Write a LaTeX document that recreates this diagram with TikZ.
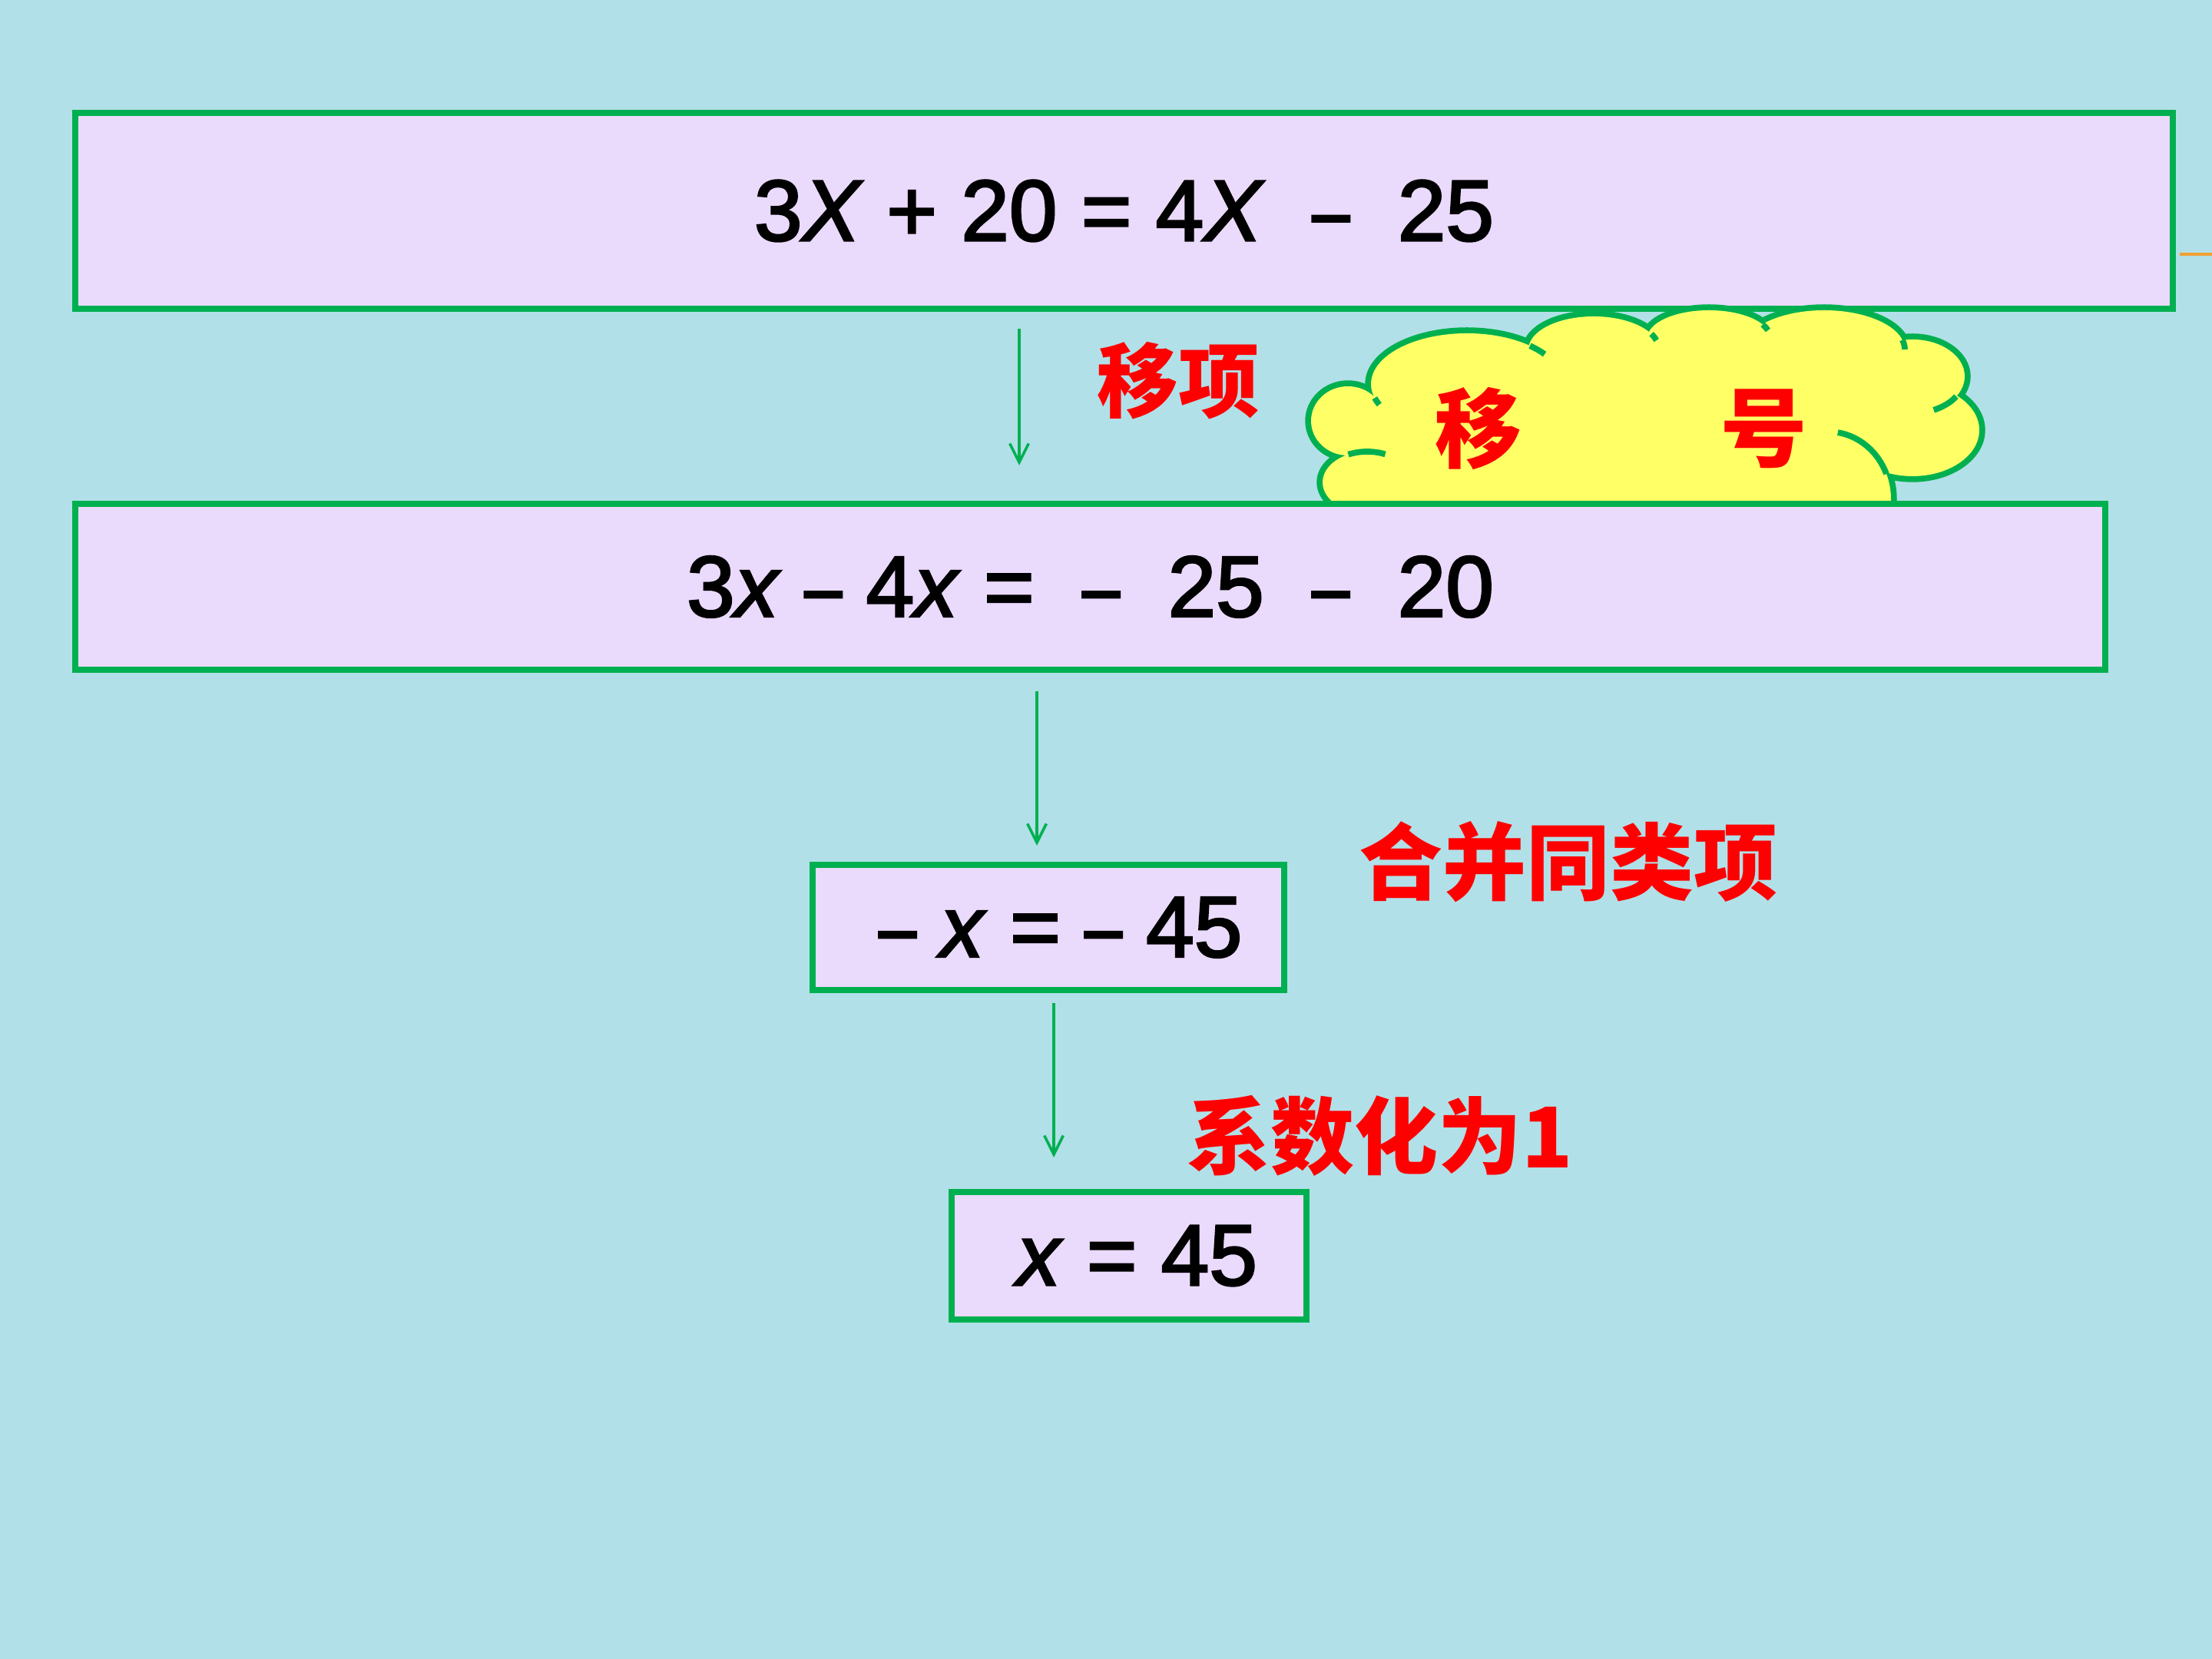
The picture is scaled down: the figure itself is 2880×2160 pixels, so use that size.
\documentclass[tikz,border=0pt]{standalone}
\usepackage{fontspec}
\usepackage{graphicx}
\setmainfont{Liberation Sans}
\newfontfamily\eqfont{Liberation Sans}[FakeBold=2.5]
\newfontfamily\cjk{Noto Sans CJK SC}
\usetikzlibrary{arrows.meta}
\definecolor{bgcyan}{RGB}{178,224,232}
\definecolor{boxfill}{RGB}{234,218,252}
\definecolor{bordergreen}{RGB}{0,176,80}
\definecolor{cloudyellow}{RGB}{255,255,102}
\definecolor{linkorange}{RGB}{240,160,50}
\newcommand{\shortdash}{\scalebox{0.78}[1]{–}}
\begin{document}
\begin{tikzpicture}[x=0.01cm,y=0.01cm,
  eqbox/.style={draw=bordergreen, line width=2.2pt, fill=boxfill, inner sep=0pt,
    font=\eqfont\fontsize{32}{38}\selectfont},
  redlabel/.style={text=red, inner sep=0pt},
  cjkbig/.style={font=\cjk\bfseries\fontsize{32}{38}\selectfont},
  cjkmid/.style={font=\cjk\bfseries\fontsize{31}{36}\selectfont},
  cjksmall/.style={font=\cjk\bfseries\fontsize{30}{36}\selectfont},
  flowarrow/.style={draw=bordergreen, line width=1pt, -{Straight Barb[length=7pt,width=7pt]}},
  puffline/.style={draw=bordergreen, line width=2.2pt},
  puffouter/.style={draw=bordergreen, line width=4.4pt, fill=cloudyellow}
]
\fill[bgcyan] (0,0) rectangle (2880,2160);
\useasboundingbox (0,0) rectangle (2880,2160);

% top equation box
\node[eqbox, minimum width=27.29cm, minimum height=2.55cm] (eqone) at (1463.5,1885.5)
  {3\textit{X} + 20 = 4\textit{X}\ \ \shortdash\ \ 25};

% cloud
\def\pufflist{1780/1532/58/40, 1755/1612/48/45, 1910/1660/125/66, 2075/1705/85/43,
  2225/1720/80/36, 2375/1705/105/51, 2490/1670/68/48, 2490/1600/87/60, 2380/1510/82/88}
\foreach \cx/\cy/\rx/\ry in \pufflist
  \path[puffouter] (\cx,\cy) ellipse[x radius=\rx, y radius=\ry];
\foreach \cx/\cy/\rx/\ry in \pufflist
  \fill[cloudyellow] (\cx,\cy) ellipse[x radius=\rx, y radius=\ry];
\fill[cloudyellow] (1738,1440) -- (1738,1515) -- (1760,1575) -- (1792,1635) -- (1992,1705)
  -- (2150,1718) -- (2295,1725) -- (2472,1708) -- (2535,1640) -- (2448,1545) -- (2448,1440) -- cycle;
% inner arcs of the cloud
\draw[puffline] (1780,1532) ++(115:58 and 40) arc[start angle=115, end angle=66, x radius=58, y radius=40];
\draw[puffline] (2380,1510) ++(81:82 and 88) arc[start angle=81, end angle=22, x radius=82, y radius=88];
\draw[puffline] (1910,1660) ++(196:125 and 66) arc[start angle=196, end angle=204, x radius=125, y radius=66];
\draw[puffline] (1910,1660) ++(49:125 and 66) arc[start angle=49, end angle=36, x radius=125, y radius=66];
\draw[puffline] (2075,1705) ++(28:85 and 43) arc[start angle=28, end angle=16, x radius=85, y radius=43];
\draw[puffline] (2225,1720) ++(29:80 and 36) arc[start angle=29, end angle=16, x radius=80, y radius=36];
\draw[puffline] (2375,1705) ++(14:105 and 51) arc[start angle=14, end angle=0, x radius=105, y radius=51];
\draw[puffline] (2490,1670) ++(-33:68 and 48) arc[start angle=-33, end angle=-66, x radius=68, y radius=48];
\node[redlabel, cjkbig] (cloudyi) at (1925,1602) {移};
\node[redlabel, cjkbig] (cloudhao) at (2297,1602) {号};

% second equation box
\node[eqbox, minimum width=26.41cm, minimum height=2.16cm] (eqtwo) at (1419.5,1396)
  {3\textit{x} \shortdash\ 4\textit{x} =\ \ \shortdash\ \ 25\ \ \shortdash\ \ 20};

% third and fourth boxes
\node[eqbox, minimum width=6.14cm, minimum height=1.63cm] (eqthree) at (1365,952.5)
  {\hspace*{9pt}\shortdash\ \textit{x} = \shortdash\ 45};
\node[eqbox, minimum width=4.62cm, minimum height=1.66cm] (eqfour) at (1470,525)
  {\hspace*{6pt}\textit{x} = 45};

% arrows
\coordinate (aones) at (1327,1732);
\coordinate (aonee) at (1327,1554);
\coordinate (atwos) at (1350,1260);
\coordinate (atwoe) at (1350,1059);
\coordinate (athrees) at (1372,854);
\coordinate (athreee) at (1372,653);
\draw[flowarrow] (aones) -- (aonee);
\draw[flowarrow] (atwos) -- (atwoe);
\draw[flowarrow] (athrees) -- (athreee);

% step labels
\node[redlabel, cjksmall] (lblmove) at (1534,1664) {移项};
\node[redlabel, cjkmid] (lblcombine) at (2042,1038) {合并同类项};
\node[redlabel, cjkmid] (lblcoef) at (1797,681) {系数化为1};

% orange line at right edge
\coordinate (orangea) at (2838,1829);
\coordinate (orangeb) at (2880,1829);
\draw[linkorange, line width=1.1pt] (orangea) -- (orangeb);
\end{tikzpicture}
\end{document}
